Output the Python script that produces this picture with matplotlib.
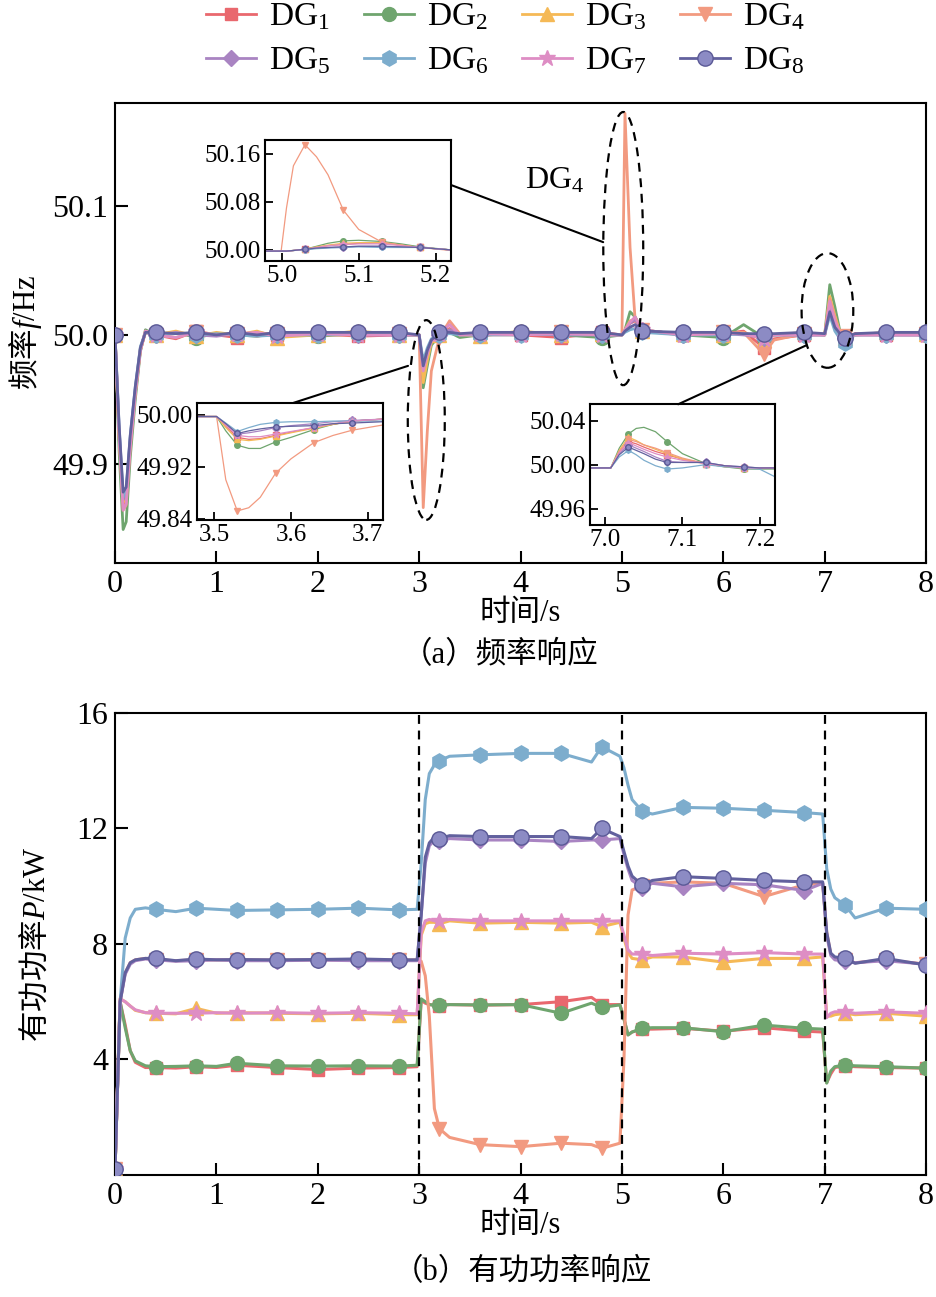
import numpy as np
import matplotlib
matplotlib.use("Agg")
import matplotlib.pyplot as plt
from matplotlib.patches import Ellipse, ConnectionPatch
from matplotlib.lines import Line2D

plt.rcParams['font.family'] = ['Liberation Serif', 'Noto Sans CJK SC']
plt.rcParams['mathtext.fontset'] = 'custom'
plt.rcParams['mathtext.rm'] = 'Liberation Serif'
plt.rcParams['mathtext.it'] = 'Liberation Serif:italic'
plt.rcParams['mathtext.default'] = 'regular'
plt.rcParams['axes.linewidth'] = 1.5

names = ["DG$_%d$" % i for i in range(1, 9)]
colors = ["#E9686E", "#6FA56E", "#F5B956", "#F29A80",
          "#A984C2", "#7DADCD", "#DE8DC4", "#62619E"]
markers = ["s", "o", "^", "v", "D", "h", "*", "o"]
msizes = [9, 10, 10, 10, 8, 11, 12, 11]

# ---------------- frequency, main axes ----------------
t_f = [0.0, 0.04, 0.08, 0.11, 0.15, 0.2, 0.25, 0.3,
       0.4, 0.6, 0.8, 1.0, 1.2, 1.4, 1.6, 2.0,
       2.4, 2.8, 3.0, 3.04, 3.08, 3.12, 3.2, 3.3,
       3.4, 3.6, 4.0, 4.4, 4.8, 5.0, 5.03, 5.08,
       5.13, 5.2, 5.6, 6.0, 6.2, 6.4, 6.5, 6.8,
       7.0, 7.05, 7.1, 7.15, 7.2, 7.3, 7.6, 8.0]

f_dg1 = [50.0, 49.92, 49.868, 49.872, 49.915, 49.955, 49.988, 50.002,
         50.0, 49.997, 50.003, 50.0, 49.998, 50.002, 50.0, 50.001,
         49.999, 50.0, 50.0, 49.968, 49.983, 49.995, 50.001, 50.005,
         50.0, 50.001, 50.0, 49.998, 50.002, 50.0, 50.003, 50.009,
         50.011, 50.003, 50.0, 50.001, 50.003, 49.99, 49.997, 50.0,
         50.0, 50.022, 50.012, 50.001, 49.998, 50.001, 50.0, 50.0]
f_dg2 = [50.0, 49.91, 49.849, 49.855, 49.905, 49.95, 49.987, 50.004,
         50.0, 50.002, 49.998, 50.001, 50.0, 49.999, 50.002, 49.999,
         50.001, 50.0, 50.0, 49.959, 49.976, 49.992, 50.0, 50.002,
         49.998, 50.0, 50.002, 50.0, 49.998, 50.0, 50.004, 50.018,
         50.014, 50.004, 50.0, 49.998, 50.008, 49.998, 50.0, 50.001,
         50.0, 50.039, 50.022, 50.003, 49.997, 50.0, 50.001, 50.0]
f_dg3 = [50.0, 49.922, 49.87, 49.874, 49.917, 49.956, 49.989, 50.002,
         50.0, 50.003, 49.999, 50.002, 50.0, 50.003, 49.998, 50.0,
         50.003, 50.0, 50.0, 49.963, 49.98, 49.994, 50.0, 50.004,
         50.0, 49.999, 50.003, 50.0, 50.001, 50.0, 50.004, 50.011,
         50.012, 50.003, 50.001, 50.0, 50.002, 49.996, 50.0, 50.002,
         50.0, 50.03, 50.015, 50.002, 49.998, 50.0, 50.002, 50.001]
f_dg4 = [50.0, 49.922, 49.864, 49.868, 49.912, 49.955, 49.988, 50.003,
         50.0, 49.998, 50.002, 50.0, 50.001, 49.999, 50.001, 50.0,
         50.0, 50.001, 50.0, 49.866, 49.925, 49.972, 49.998, 50.011,
         50.001, 50.0, 50.0, 50.002, 50.0, 50.0, 50.172, 50.068,
         50.012, 50.004, 50.0, 50.002, 50.002, 49.985, 49.996, 50.001,
         50.0, 50.028, 50.014, 50.001, 49.999, 50.0, 50.0, 50.001]
f_dg5 = [50.0, 49.928, 49.872, 49.877, 49.92, 49.958, 49.99, 50.002,
         50.0, 50.002, 50.0, 49.999, 50.001, 50.0, 50.0, 50.001,
         50.0, 50.0, 50.0, 49.974, 49.986, 49.996, 50.0, 50.004,
         50.0, 50.0, 50.001, 50.0, 50.0, 50.0, 50.003, 50.009,
         50.012, 50.004, 50.0, 50.001, 50.0, 49.998, 50.0, 50.0,
         50.0, 50.021, 50.008, 50.001, 49.998, 50.0, 50.0, 50.0]
f_dg6 = [50.0, 49.93, 49.874, 49.88, 49.922, 49.96, 49.991, 50.002,
         50.0, 50.001, 50.0, 50.001, 50.0, 49.999, 50.0, 50.0,
         50.001, 50.0, 50.0, 49.98, 49.99, 49.997, 50.0, 50.001,
         50.0, 50.0, 50.0, 50.001, 50.0, 50.0, 50.002, 50.004,
         50.005, 50.002, 50.0, 50.0, 50.001, 49.999, 50.0, 50.0,
         50.0, 50.015, 50.003, 49.997, 49.994, 50.0, 50.0, 50.0]
f_dg7 = [50.0, 49.922, 49.864, 49.869, 49.913, 49.955, 49.988, 50.003,
         50.0, 49.998, 50.002, 50.0, 50.001, 50.002, 49.999, 50.001,
         50.0, 50.0, 50.0, 49.972, 49.985, 49.995, 50.001, 50.008,
         50.0, 50.001, 50.0, 50.001, 50.0, 50.0, 50.004, 50.01,
         50.014, 50.004, 50.0, 50.001, 50.001, 49.997, 50.0, 50.0,
         50.0, 50.026, 50.011, 50.001, 49.998, 50.0, 50.0, 50.0]
f_dg8 = [50.0, 49.93, 49.878, 49.882, 49.922, 49.96, 49.99, 50.002,
         50.002, 50.001, 50.002, 50.0, 50.002, 50.0, 50.002, 50.002,
         50.002, 50.002, 50.0, 49.976, 49.988, 49.996, 50.002, 50.002,
         50.001, 50.002, 50.002, 50.002, 50.002, 50.0, 50.003, 50.006,
         50.008, 50.003, 50.002, 50.002, 50.001, 50.001, 50.001, 50.002,
         50.001, 50.018, 50.006, 50.001, 49.998, 50.001, 50.002, 50.002]
freq = [f_dg1, f_dg2, f_dg3, f_dg4, f_dg5, f_dg6, f_dg7, f_dg8]

# ---------------- frequency, inset around t = 5 s ----------------
t_a = [4.978, 4.999, 5.006, 5.015, 5.03, 5.045, 5.06, 5.08, 5.1, 5.13, 5.155, 5.18, 5.22]
a_dg1 = [49.998, 49.998, 49.998, 49.999, 50.001, 50.004, 50.007, 50.009, 50.011, 50.012, 50.008, 50.004, 50.0]
a_dg2 = [49.998, 49.998, 49.998, 49.999, 50.001, 50.006, 50.011, 50.015, 50.016, 50.014, 50.01, 50.005, 50.0]
a_dg3 = [49.998, 49.998, 49.998, 49.999, 50.001, 50.005, 50.008, 50.011, 50.012, 50.012, 50.008, 50.004, 50.0]
a_dg4 = [49.998, 49.998, 50.07, 50.14, 50.175, 50.155, 50.125, 50.066, 50.034, 50.013, 50.008, 50.004, 49.999]
a_dg5 = [49.998, 49.998, 49.998, 49.999, 50.001, 50.003, 50.004, 50.005, 50.006, 50.006, 50.005, 50.004, 50.0]
a_dg6 = [49.998, 49.998, 49.998, 49.999, 50.0, 50.002, 50.003, 50.004, 50.005, 50.004, 50.004, 50.004, 50.0]
a_dg7 = [49.998, 49.998, 49.998, 49.999, 50.001, 50.004, 50.007, 50.009, 50.01, 50.01, 50.007, 50.004, 50.0]
a_dg8 = [49.998, 49.998, 49.998, 49.999, 50.001, 50.003, 50.004, 50.005, 50.006, 50.006, 50.005, 50.004, 50.0]
inset_a = [a_dg1, a_dg2, a_dg3, a_dg4, a_dg5, a_dg6, a_dg7, a_dg8]
marks_a = [5.03, 5.08, 5.13, 5.18]

# ---------------- frequency, inset around t = 3 s ----------------
t_b = [3.477, 3.503, 3.515, 3.53, 3.545, 3.56, 3.58, 3.6, 3.63, 3.655, 3.68, 3.72]
b_dg1 = [49.997, 49.997, 49.982, 49.965, 49.962, 49.963, 49.968, 49.973, 49.98, 49.985, 49.99, 49.993]
b_dg2 = [49.997, 49.997, 49.975, 49.953, 49.948, 49.948, 49.958, 49.965, 49.977, 49.985, 49.99, 49.993]
b_dg3 = [49.997, 49.997, 49.98, 49.962, 49.96, 49.962, 49.967, 49.972, 49.979, 49.985, 49.99, 49.993]
b_dg4 = [49.997, 49.997, 49.9, 49.852, 49.857, 49.873, 49.91, 49.932, 49.957, 49.968, 49.976, 49.984]
b_dg5 = [49.997, 49.997, 49.985, 49.97, 49.972, 49.975, 49.98, 49.983, 49.986, 49.989, 49.991, 49.993]
b_dg6 = [49.997, 49.997, 49.987, 49.974, 49.98, 49.985, 49.988, 49.989, 49.989, 49.99, 49.99, 49.99]
b_dg7 = [49.997, 49.997, 49.984, 49.968, 49.966, 49.966, 49.97, 49.974, 49.98, 49.986, 49.99, 49.993]
b_dg8 = [49.997, 49.997, 49.986, 49.971, 49.975, 49.978, 49.981, 49.982, 49.983, 49.986, 49.987, 49.989]
inset_b = [b_dg1, b_dg2, b_dg3, b_dg4, b_dg5, b_dg6, b_dg7, b_dg8]
marks_b = [3.53, 3.58, 3.63, 3.68]

# ---------------- frequency, inset around t = 7 s ----------------
t_c = [6.98, 7.007, 7.018, 7.03, 7.04, 7.05, 7.065, 7.08, 7.1, 7.13, 7.155, 7.18, 7.2, 7.22]
c_dg1 = [49.997, 49.997, 50.011, 50.021, 50.019, 50.016, 50.012, 50.009, 50.005, 50.001, 49.999, 49.997, 49.997, 49.997]
c_dg2 = [49.997, 49.997, 50.015, 50.028, 50.033, 50.034, 50.03, 50.021, 50.01, 50.001, 49.998, 49.996, 49.996, 49.996]
c_dg3 = [49.997, 49.997, 50.013, 50.025, 50.022, 50.018, 50.014, 50.01, 50.005, 50.001, 49.998, 49.997, 49.997, 49.997]
c_dg4 = [49.997, 49.997, 50.012, 50.023, 50.021, 50.018, 50.015, 50.011, 50.006, 50.001, 49.999, 49.997, 49.997, 49.997]
c_dg5 = [49.997, 49.997, 50.01, 50.018, 50.015, 50.012, 50.007, 50.003, 50.002, 50.002, 49.999, 49.998, 49.997, 49.997]
c_dg6 = [49.997, 49.997, 50.007, 50.013, 50.009, 50.004, 49.999, 49.996, 49.997, 50.0, 49.998, 49.997, 49.996, 49.989]
c_dg7 = [49.997, 49.997, 50.011, 50.02, 50.017, 50.014, 50.01, 50.007, 50.004, 50.001, 49.999, 49.997, 49.997, 49.997]
c_dg8 = [49.997, 49.997, 50.009, 50.016, 50.013, 50.01, 50.005, 50.002, 50.002, 50.002, 49.999, 49.998, 49.997, 49.997]
inset_c = [c_dg1, c_dg2, c_dg3, c_dg4, c_dg5, c_dg6, c_dg7, c_dg8]
marks_c = [7.03, 7.08, 7.13, 7.18]

# ---------------- active power ----------------
t_p = [0.0, 0.05, 0.1, 0.15, 0.2, 0.3, 0.4, 0.6,
       0.8, 1.0, 1.2, 1.6, 2.0, 2.4, 2.8, 2.98,
       3.02, 3.06, 3.1, 3.15, 3.2, 3.3, 3.6, 4.0,
       4.4, 4.7, 4.8, 4.98, 5.02, 5.06, 5.1, 5.2,
       5.3, 5.6, 6.0, 6.4, 6.8, 6.98, 7.02, 7.06,
       7.1, 7.2, 7.3, 7.6, 8.0]

p_dg1 = [0.2, 6.0, 5.2, 4.3, 3.9, 3.72, 3.72, 3.7,
         3.75, 3.72, 3.8, 3.72, 3.65, 3.7, 3.72, 3.75,
         6.05, 5.95, 5.9, 5.88, 5.85, 5.9, 5.88, 5.9,
         6.0, 6.15, 5.9, 5.9, 5.4, 4.85, 4.95, 5.05,
         5.05, 5.08, 4.98, 5.1, 4.98, 4.95, 3.2, 3.5,
         3.72, 3.78, 3.75, 3.72, 3.7]
p_dg2 = [0.2, 6.0, 5.1, 4.3, 3.95, 3.78, 3.75, 3.76,
         3.78, 3.76, 3.87, 3.78, 3.77, 3.78, 3.77, 3.8,
         6.1, 6.0, 5.9, 5.88, 5.89, 5.9, 5.89, 5.9,
         5.6, 5.95, 5.8, 5.89, 5.4, 4.85, 4.95, 5.08,
         5.1, 5.1, 4.96, 5.19, 5.08, 5.05, 3.18, 3.6,
         3.75, 3.81, 3.78, 3.75, 3.7]
p_dg3 = [0.2, 6.1, 6.0, 5.85, 5.7, 5.62, 5.6, 5.58,
         5.77, 5.6, 5.62, 5.6, 5.58, 5.6, 5.55, 5.55,
         8.3, 8.7, 8.75, 8.75, 8.7, 8.8, 8.72, 8.75,
         8.72, 8.75, 8.6, 8.75, 8.2, 7.7, 7.5, 7.45,
         7.55, 7.55, 7.37, 7.5, 7.5, 7.55, 5.5, 5.5,
         5.55, 5.6, 5.55, 5.6, 5.5]
p_dg4 = [0.2, 6.0, 7.0, 7.35, 7.45, 7.5, 7.45, 7.42,
         7.45, 7.45, 7.45, 7.44, 7.45, 7.45, 7.44, 7.45,
         7.4, 6.9, 5.5, 2.3, 1.6, 1.3, 1.05, 0.98,
         1.1, 1.05, 0.92, 1.1, 4.0, 9.0, 9.87, 10.0,
         10.1, 10.15, 10.1, 9.64, 10.05, 10.1, 8.4, 7.65,
         7.5, 7.45, 7.35, 7.45, 7.3]
p_dg5 = [0.2, 6.0, 6.95, 7.3, 7.42, 7.48, 7.45, 7.4,
         7.42, 7.45, 7.42, 7.42, 7.44, 7.42, 7.42, 7.42,
         9.0, 10.8, 11.4, 11.6, 11.55, 11.65, 11.6, 11.6,
         11.55, 11.6, 11.6, 11.65, 11.1, 10.6, 10.2, 9.95,
         10.1, 9.98, 10.1, 10.05, 9.85, 10.1, 8.3, 7.6,
         7.45, 7.4, 7.35, 7.42, 7.3]
p_dg6 = [0.2, 6.0, 8.2, 8.9, 9.2, 9.25, 9.2, 9.12,
         9.24, 9.2, 9.16, 9.18, 9.2, 9.24, 9.18, 9.2,
         10.8, 13.0, 13.9, 14.2, 14.35, 14.5, 14.55, 14.6,
         14.6, 14.3, 14.83, 14.5, 14.1, 13.5, 13.0, 12.6,
         12.5, 12.73, 12.7, 12.63, 12.55, 12.5, 10.6, 9.9,
         9.6, 9.35, 8.9, 9.24, 9.2]
p_dg7 = [0.2, 6.1, 6.0, 5.85, 5.72, 5.62, 5.6, 5.6,
         5.6, 5.62, 5.6, 5.62, 5.6, 5.62, 5.6, 5.58,
         8.4, 8.8, 8.85, 8.8, 8.8, 8.85, 8.8, 8.8,
         8.8, 8.8, 8.78, 8.8, 8.3, 7.8, 7.65, 7.65,
         7.6, 7.68, 7.65, 7.7, 7.65, 7.65, 5.45, 5.6,
         5.65, 5.65, 5.6, 5.65, 5.6]
p_dg8 = [0.2, 6.0, 7.0, 7.35, 7.45, 7.5, 7.5, 7.42,
         7.48, 7.45, 7.46, 7.45, 7.46, 7.48, 7.45, 7.45,
         9.0, 11.0, 11.5, 11.7, 11.65, 11.75, 11.72, 11.72,
         11.72, 11.65, 12.0, 11.72, 11.2, 10.7, 10.35, 10.04,
         10.2, 10.33, 10.27, 10.2, 10.15, 10.15, 8.4, 7.68,
         7.55, 7.5, 7.33, 7.5, 7.27]
power = [p_dg1, p_dg2, p_dg3, p_dg4, p_dg5, p_dg6, p_dg7, p_dg8]

event_times = [3, 5, 7]
marker_step = 0.4


def every_step(t, step):
    t = np.asarray(t)
    return np.isclose(np.round(t / step) * step, t)


def style(i):
    kw = dict(color=colors[i], marker=markers[i])
    if i == 7:
        # DG8 marker looks like a shaded sphere: lighter face, dark rim
        kw.update(mfc="#8C8BC4", mec="#5A5996")
    return kw


fig = plt.figure(figsize=(9.36, 12.97), dpi=100)
ax1 = fig.add_axes([0.1229, 0.5659, 0.8665, 0.3547])
ax2 = fig.add_axes([0.1229, 0.0941, 0.8665, 0.3562])

for i in range(8):
    ax1.plot(t_f, freq[i], lw=2.0, ms=msizes[i],
             markevery=list(every_step(t_f, marker_step)),
             zorder=3 + i * 0.1, **style(i))
    ax2.plot(t_p, power[i], lw=2.2, ms=msizes[i],
             markevery=list(every_step(t_p, marker_step)),
             zorder=3 + i * 0.1, **style(i))

for ax in (ax1, ax2):
    ax.set_xlim(0, 8)
    ax.set_xticks(range(9))
    ax.tick_params(direction="in", length=9, width=1.5, labelsize=23,
                   pad=5)

cjk = ["Noto Sans CJK SC"]

ax1.set_ylim(49.823, 50.18)
ax1.set_yticks([49.9, 50.0, 50.1])
ax1.set_yticklabels(["49.9", "50.0", "50.1"])
ax1.set_xlabel("时间/s", fontsize=22, labelpad=0)
ax1.set_ylabel("频率$\\mathit{f}\\mathrm{/Hz}$", fontsize=22, labelpad=6,
               family=cjk)

ax2.set_ylim(0, 16)
ax2.set_yticks([4, 8, 12, 16])
ax2.set_xlabel("时间/s", fontsize=22, labelpad=0)
ax2.set_ylabel("有功功率$\\mathit{P}\\mathrm{/kW}$", fontsize=22,
               labelpad=18, family=cjk)
for te in event_times:
    ax2.axvline(te, color="black", lw=1.6, ls=(0, (4, 3)), zorder=5)

# dashed ellipses marking the zoomed events
ellipses = [((3.07, 49.934), 0.365, 0.155),
            ((5.013, 50.067), 0.394, 0.212),
            ((7.027, 50.019), 0.51, 0.089)]
for centre, w, h in ellipses:
    ax1.add_patch(Ellipse(centre, w, h, fill=False, ec="black", lw=1.6,
                          ls=(0, (4, 3)), zorder=6))
ax1.text(4.34, 50.12, "DG$_4$", fontsize=23, ha="center", va="center")

# insets
inset_specs = [
    ([0.2831, 0.799, 0.1987, 0.0931], t_a, inset_a, marks_a,
     (4.978, 5.22), (49.982, 50.183), [5.0, 5.1, 5.2],
     [50.0, 50.08, 50.16]),
    ([0.2101, 0.599, 0.199, 0.0904], t_b, inset_b, marks_b,
     (3.477, 3.72), (49.838, 50.018), [3.5, 3.6, 3.7],
     [49.84, 49.92, 50.0]),
    ([0.6303, 0.5952, 0.1976, 0.0931], t_c, inset_c, marks_c,
     (6.98, 7.22), (49.945, 50.055), [7.0, 7.1, 7.2],
     [49.96, 50.0, 50.04]),
]
insets = []
for rect, tt, series, marks, xl, yl, xt, yt in inset_specs:
    axi = fig.add_axes(rect)
    mask = list(np.isin(np.round(tt, 3), marks))
    for i in range(8):
        axi.plot(tt, series[i], lw=0.9, ms=4 if markers[i] != "*" else 5,
                 markevery=mask, **style(i))
    axi.set_xlim(*xl)
    axi.set_ylim(*yl)
    axi.set_xticks(xt)
    axi.set_xticklabels(["%.1f" % v for v in xt])
    axi.set_yticks(yt)
    axi.set_yticklabels(["%.2f" % v for v in yt])
    axi.tick_params(direction="in", length=6, width=1.3, labelsize=18, pad=3)
    insets.append(axi)

connectors = [(insets[0], (1.0, 0.627), (4.815, 50.072)),
              (insets[1], (0.52, 1.0), (2.89, 49.976)),
              (insets[2], (0.477, 1.0), (6.82, 49.992))]
for axi, xya, xyb in connectors:
    con = ConnectionPatch(xyA=xya, coordsA=axi.transAxes, xyB=xyb,
                          coordsB=ax1.transData, color="black", lw=1.5)
    fig.add_artist(con)

# legend filled row by row: DG1-DG4 on top, DG5-DG8 below
order = [0, 4, 1, 5, 2, 6, 3, 7]
handles = [Line2D([], [], lw=2.0, ms=msizes[i], **style(i)) for i in order]
fig.legend(handles, [names[i] for i in order], loc="upper center",
           bbox_to_anchor=(0.54, 1.022), ncol=4, frameon=False, fontsize=24,
           handlelength=1.5, handletextpad=0.4, columnspacing=1.0,
           labelspacing=0.4)

fig.text(0.534, 1 - 655 / 1297, "（a）频率响应", fontsize=22,
         ha="center", va="center")
fig.text(0.558, 1 - 1272 / 1297, "（b）有功功率响应", fontsize=22,
         ha="center", va="center")

fig.savefig("out.png", dpi=100)
